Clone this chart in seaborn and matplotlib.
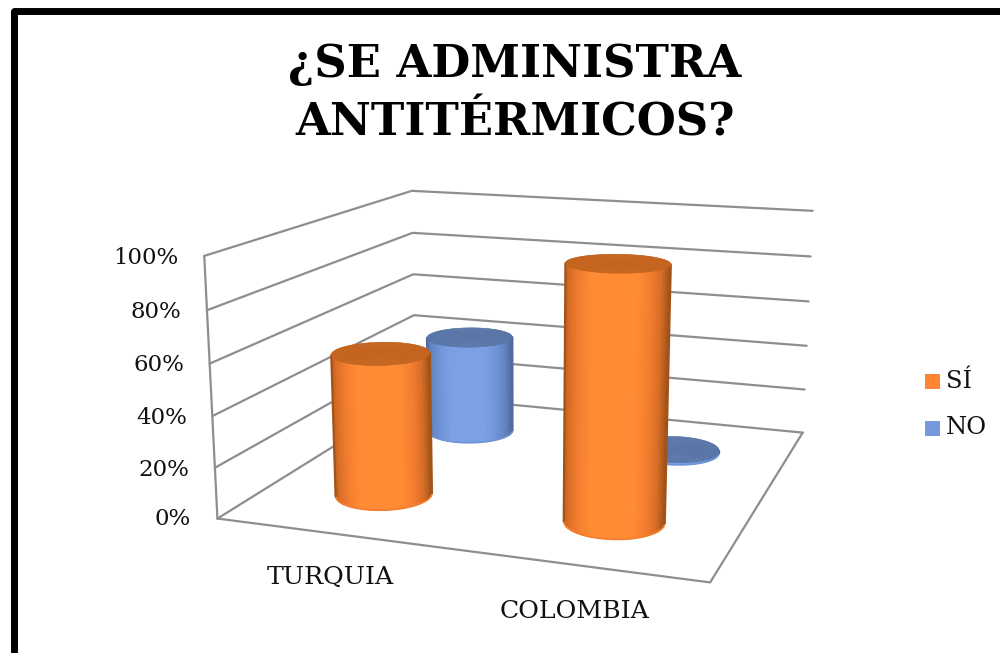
# %%
# Cylinder chart on a 3D axes, camera values fitted to the box corners of the picture
import numpy as np
import matplotlib
matplotlib.use("Agg")
import matplotlib.pyplot as plt
from matplotlib.patches import Rectangle
import seaborn as sns

categories = ["TURQUIA", "COLOMBIA"]
series_names = ["SÍ", "NO"]
si_values = [57, 98]
no_values = [43, 0]
tick_values = [0, 20, 40, 60, 80, 100]
tick_labels = ["0%", "20%", "40%", "60%", "80%", "100%"]

W, H = 1000, 653
ELEV, AZIM, ROLL = 13.7449, -70.9053, -0.1163
FOCAL = np.exp(-0.8771)
BOX = (np.exp(0.0149), 1, np.exp(-0.6198))
LEFT, TOP, SIDE = 186.74, 22.98, 680.17

sns.set_theme(style="white")
plt.rcParams["font.family"] = ["DejaVu Serif"]

fig = plt.figure(figsize=(W / 100, H / 100), dpi=100, facecolor="white")
ax = fig.add_axes([LEFT / W, 1 - (TOP + SIDE) / H, SIDE / W, SIDE / H], projection="3d", computed_zorder=False)
ax.set_xlim(0, 2)
ax.set_ylim(0, 2)
ax.set_zlim(0, 100)
ax.set_axis_off()
ax.view_init(elev=ELEV, azim=AZIM, roll=ROLL)
ax.set_proj_type("persp", focal_length=FOCAL)
ax.set_box_aspect(BOX)

# camera position in data units, null space of the projection
eye = np.linalg.svd(ax.get_proj()[[0, 1, 3]])[2][-1]
eye = eye[:3] / eye[3]

# %%
# Walls and floor
GRID = "#8E8E8E"
line_kw = dict(color=GRID, lw=1.6, zorder=1, solid_capstyle="round")
for z in tick_values:
    ax.plot([0, 0, 2], [0, 2, 2], [z, z, z], **line_kw)
ax.plot([0, 0], [0, 0], [0, 100], **line_kw)
ax.plot([0, 2, 2], [0, 0, 2], [0, 0, 0], **line_kw)


def cylinder(cx, cy, value, radius, side_cols, top_col, order):
    # only the part that faces the camera gets drawn
    ry = radius * BOX[0] / BOX[1]
    dx, dy = (eye[0] - cx) * BOX[0], (eye[1] - cy) * BOX[1]
    facing = np.arctan2(dy, dx)
    half = np.arccos(radius * BOX[0] / np.hypot(dx, dy))
    theta = np.linspace(facing - half, facing + half, 140)
    height = max(value, 1)
    edge_x = cx + radius * np.cos(theta)
    edge_y = cy + ry * np.sin(theta)
    X = np.array([edge_x] * 2)
    Y = np.array([edge_y] * 2)
    Z = np.array([np.zeros_like(theta), np.full_like(theta, height)])
    mid = (theta[:-1] + theta[1:]) / 2
    u = np.sin(mid - facing) / np.sin(half)
    light = np.clip((1 - np.abs(u + 0.05)) / 0.62, 0, 1) ** 0.8
    shades = sns.blend_palette(side_cols, n_colors=64)
    fc = np.array([shades[int(v * 63)] for v in light])[None, :, :]
    ax.plot_surface(X, Y, Z, facecolors=fc, shade=False, rstride=1, cstride=1, zorder=order, linewidth=0,
                    antialiased=False)
    # smooth the stepped outline of the unsmoothed faces
    ax.plot(edge_x, edge_y, np.zeros_like(theta), color=side_cols[2], lw=1.2, zorder=order + 0.1)
    for k in (0, -1):
        ax.plot([edge_x[k]] * 2, [edge_y[k]] * 2, [0, height], color=side_cols[0], lw=1.6, zorder=order + 0.2)
    full = np.linspace(0, 2 * np.pi, 121)
    rr = np.array([0, 1.0])
    X2 = cx + np.outer(rr, radius * np.cos(full))
    Y2 = cy + np.outer(rr, ry * np.sin(full))
    Z2 = np.full_like(X2, height)
    ax.plot_surface(X2, Y2, Z2, color=top_col, shade=False, rstride=1, cstride=1, zorder=order + 0.5, linewidth=0.4,
                    edgecolor=top_col)


ORANGE_SIDE = ["#A2531A", "#D96E26", "#F57F30", "#FF8C35"]
BLUE_SIDE = ["#4F6C9F", "#6284C0", "#7094D8", "#7CA0E4"]
centers_x = [0.5, 1.5]
for i in range(2):
    cylinder(centers_x[i], 1.5, no_values[i], 0.2, BLUE_SIDE, "#5A76A9", 2 + 2 * i)
    cylinder(centers_x[i], 0.5, si_values[i], 0.2, ORANGE_SIDE, "#C4641F", 3 + 2 * i)

# %%
# Text and legend
text_color = "#111111"
tick_pos = [(191, 519), (189, 470), (187, 418), (184, 365), (181, 312), (178, 258)]
for lab, (px, py) in zip(tick_labels, tick_pos):
    fig.text(px / W, 1 - py / H, lab, ha="right", va="center", fontsize=16.5, color=text_color)
fig.text(330 / W, 1 - 577 / H, categories[0], ha="center", va="center", fontsize=18.2, color=text_color)
fig.text(575 / W, 1 - 612 / H, categories[1], ha="center", va="center", fontsize=18.2, color=text_color)

legend_cols = ["#FF8534", "#7698DC"]
for name, col, py in zip(series_names, legend_cols, [381, 428]):
    fig.add_artist(Rectangle((925 / W, 1 - (py + 7.5) / H), 15 / W, 15 / H, transform=fig.transFigure, color=col, lw=0))
    fig.text(946 / W, 1 - py / H, name, ha="left", va="center", fontsize=17.5, color=text_color)

fig.text(515 / W, 1 - 65 / H, "¿SE ADMINISTRA", ha="center", va="center", fontsize=32.3, fontweight="bold", color="black")
fig.text(515 / W, 1 - 123 / H, "ANTITÉRMICOS?", ha="center", va="center", fontsize=32.3, fontweight="bold", color="black")

fig.add_artist(Rectangle((13.5 / W, -0.1), 1.1, 1.1 - 11.5 / H, transform=fig.transFigure, fill=False, ec="black",
                         lw=5, joinstyle="round"))

fig.savefig("out.png", dpi=100)
